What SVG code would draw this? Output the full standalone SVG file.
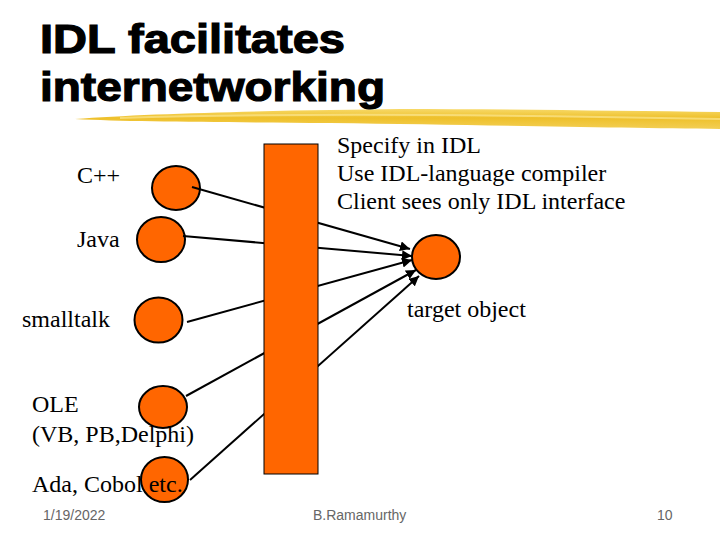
<svg xmlns="http://www.w3.org/2000/svg" width="720" height="540" viewBox="0 0 720 540">
<defs>
<style>
.title{font-family:"Liberation Sans",Arial,sans-serif;font-weight:bold;font-size:41px;fill:#000;stroke:#000;stroke-width:1.2}
.t{font-family:"Liberation Serif","Times New Roman",serif;font-size:24px;fill:#000}
.foot{font-family:"Liberation Sans",Arial,sans-serif;font-size:14px;fill:#666}
.node{fill:#FF6600;stroke:#000;stroke-width:2}
.conn{stroke:#000;stroke-width:2;fill:none;marker-end:url(#ah)}
</style>
<marker id="ah" viewBox="0 0 10 10" refX="10" refY="5" markerWidth="5" markerHeight="5" orient="auto" markerUnits="strokeWidth">
<path d="M0,0 L10,5 L0,10 Z" fill="#000"/>
</marker>
<linearGradient id="brush" x1="0" y1="0" x2="0" y2="1">
<stop offset="0" stop-color="#F7D968"/>
<stop offset="0.45" stop-color="#EEC02A"/>
<stop offset="1" stop-color="#F3CF55"/>
</linearGradient>
</defs>
<rect width="720" height="540" fill="#fff"/>
<g id="title">
<path d="M75,119 C150,113 300,110 400,109 C500,109 620,111 720,112 L720,129 C620,128 480,125 330,123 C220,122 130,122 75,119 Z" fill="url(#brush)"/>
<path d="M120,118 C250,114 420,114 600,117 C650,118 700,119 720,119" stroke="#FBE58E" stroke-width="2" fill="none" opacity="0.7"/>
<text class="title" x="40" y="53" textLength="305" lengthAdjust="spacingAndGlyphs">IDL facilitates</text>
<text class="title" x="40" y="101" textLength="345" lengthAdjust="spacingAndGlyphs">internetworking</text>
</g>
<g id="node-cpp"><ellipse class="node" cx="176" cy="188" rx="24" ry="22"/></g>
<g id="node-java"><ellipse class="node" cx="161" cy="239.5" rx="24" ry="22.5"/></g>
<g id="node-smalltalk"><ellipse class="node" cx="158.5" cy="320" rx="24" ry="22.5"/></g>
<g id="node-ole"><ellipse class="node" cx="163" cy="407" rx="24" ry="21"/></g>
<g id="node-ada"><ellipse class="node" cx="164.5" cy="479.5" rx="23.5" ry="22.5"/></g>
<g id="node-target"><ellipse class="node" cx="436" cy="257" rx="24" ry="22"/></g>
<g id="connectors">
<line class="conn" x1="192" y1="187" x2="410" y2="249"/>
<line class="conn" x1="183" y1="236" x2="412" y2="256"/>
<line class="conn" x1="187" y1="322" x2="412" y2="260"/>
<line class="conn" x1="186" y1="396" x2="416" y2="270"/>
<line class="conn" x1="190" y1="480" x2="419" y2="276"/>
</g>
<g id="node-idl"><rect x="264" y="144" width="54" height="330" fill="#FF6600" stroke="#000" stroke-width="1"/></g>
<g id="labels">
<text class="t" x="337" y="153">Specify in IDL</text>
<text class="t" x="337" y="181">Use IDL-language compiler</text>
<text class="t" x="337" y="209">Client sees only IDL interface</text>
<text class="t" x="77" y="183">C++</text>
<text class="t" x="77" y="247">Java</text>
<text class="t" x="22" y="327">smalltalk</text>
<text class="t" x="407" y="317">target object</text>
<text class="t" x="32" y="412">OLE</text>
<text class="t" x="32" y="442">(VB, PB,Delphi)</text>
<text class="t" x="32" y="492">Ada, Cobol etc.</text>
</g>
<g id="footer">
<text class="foot" x="43" y="520">1/19/2022</text>
<text class="foot" x="313" y="520">B.Ramamurthy</text>
<text class="foot" x="657" y="520">10</text>
</g>
</svg>
